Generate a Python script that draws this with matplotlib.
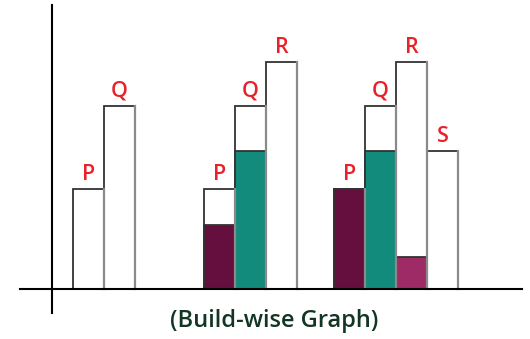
import matplotlib.pyplot as plt

# bar heights (baseline = 0) for each build, in chart units
labels = [["P", "Q"], ["P", "Q", "R"], ["P", "Q", "R", "S"]]
heights = [[100, 183], [100, 183, 227], [100, 183, 227, 138]]
# filled (completed) portion of each bar
filled = [[0, 0], [64, 138, 0], [100, 138, 32, 0]]

fill_colors = {"P": "#650F3E", "Q": "#128A7C", "R": "#9E2A66", "S": "#128A7C"}
group_left = [73, 204, 334]
bar_w = 31

fig = plt.figure(figsize=(5.30, 3.39), dpi=100)
ax = fig.add_axes([0, 0, 1, 1])
ax.set_xlim(0, 530)
ax.set_ylim(-50, 289)
ax.axis("off")

# axes cross
ax.plot([20, 522], [0, 0], color="black", lw=1.5, zorder=5)
ax.plot([52, 52], [-24, 284], color="black", lw=1.5, zorder=5)

for g, x0 in enumerate(group_left):
    for i, (lab, h, f) in enumerate(zip(labels[g], heights[g], filled[g])):
        x = x0 + i * bar_w
        ax.bar(x, h, width=bar_w, align="edge", color="white",
               edgecolor="#333333", lw=1.3, zorder=2)
        if f:
            ax.bar(x, f, width=bar_w, align="edge", color=fill_colors[lab],
                   edgecolor="#333333", lw=1.3, zorder=3)
        # lighter right-hand edge
        ax.plot([x + bar_w, x + bar_w], [0, h], color="#8a8a8a", lw=1.6, zorder=4)
        ax.text(x + bar_w / 2, h + 4, lab, ha="center", va="bottom",
                color="#E8212B", fontsize=15.5, fontweight="semibold",
                family="Open Sans")

ax.text(274, -32, "(Build-wise Graph)", ha="center", va="center",
        color="#123524", fontsize=17, fontweight="semibold", family="Open Sans")

fig.savefig("out.png", dpi=100)
